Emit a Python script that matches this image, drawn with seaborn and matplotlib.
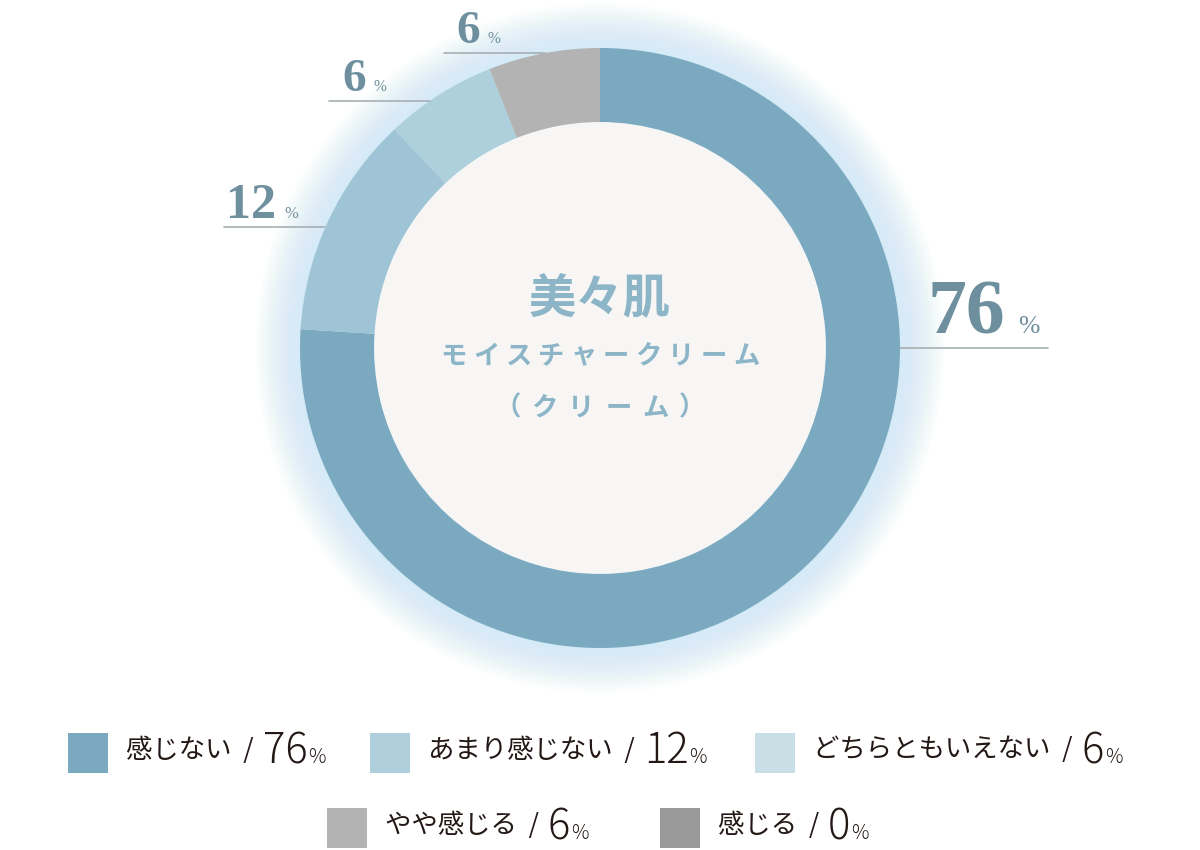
import matplotlib.pyplot as plt
import matplotlib.patches as mpatches
import seaborn as sns
import numpy as np

# data
categories = ['感じない', 'あまり感じない', 'どちらともいえない', 'やや感じる', '感じる']
values = [76, 12, 6, 6, 0]
ring_colors = ['#7BAAC0', '#9FC4D5', '#ADD0DC', '#B3B3B3', '#999999']
legend_colors = ['#7BAAC0', '#AFCFDC', '#C9DEE5', '#B3B3B3', '#999999']
title_lines = ['美々肌', 'モイスチャークリーム', '（クリーム）']

sns.set_theme(style='white')
plt.rcParams['font.family'] = ['Noto Sans CJK JP', 'DejaVu Sans']

H = 850
fig = plt.figure(figsize=(12, 8.5), dpi=100)
ax = fig.add_axes([0, 0, 1, 1])

cx, cy = 600, H - 348
R, W = 300, 74

# soft glow behind the ring
for r in np.linspace(R + 45, R, 30):
    ax.add_patch(mpatches.Circle((cx, cy), r, color='#C6EAF7', alpha=0.03, lw=0, zorder=0))

ax.add_patch(mpatches.Circle((cx, cy), R - W, color='#F7F6F5', lw=0, zorder=1))

wedges, _ = ax.pie(values, colors=ring_colors, startangle=90, counterclock=False,
                   radius=R, center=(cx, cy), frame=True,
                   wedgeprops=dict(width=W, linewidth=0))
for w in wedges:
    w.set_zorder(2)
ax.set_xlim(0, 1200)
ax.set_ylim(0, H)
ax.set_aspect('equal')
ax.axis('off')

# percentage labels with leader lines (pixel y from top)
num_color = '#6E8F9E'
labels = [
    # value, line y, line end x, text x, number size (pt), gap to line
    (values[0], 348, 1048, 928, 56, 15, 'right'),
    (values[1], 227, 224, 226, 36, 9, 'left'),
    (values[2], 101, 329, 342, 34, 10, 'left'),
    (values[3], 53, 444, 456, 34, 10, 'left'),
]
for val, ly, lx, tx, fs, gap, side in labels:
    dy = cy - (H - ly)
    edge = np.sqrt(R ** 2 - dy ** 2)
    if side == 'right':
        x0, x1 = cx + edge, lx
    else:
        x0, x1 = lx, cx - edge
    ax.plot([x0, x1], [H - ly, H - ly], color='#A6AFB3', lw=1.2, zorder=3)
    t = ax.text(tx, H - ly + gap, str(val), fontsize=fs, color=num_color,
                family='Liberation Serif', fontweight='bold',
                ha='left', va='baseline', zorder=4)
    fig.canvas.draw()
    bb = t.get_window_extent()
    ax.text(bb.x1 + fs * 0.22, H - ly + gap, '%', fontsize=fs * 0.33, color=num_color,
            family='Liberation Serif', ha='left', va='baseline', zorder=4)

# centre title
ctext = '#8DB5C8'
ax.text(cx, H - 298, title_lines[0], fontsize=34, fontweight='bold', color=ctext,
        ha='center', va='center')
for line, y, step in [(title_lines[1], 356, 32.5), (title_lines[2], 408, 37)]:
    n = len(line)
    for i, ch in enumerate(line):
        ax.text(cx + (i - (n - 1) / 2) * step, H - y, ch, fontsize=19, fontweight='bold',
                color=ctext, ha='center', va='center')

# legend: (square x, square centre y, digit baseline y)
leg_pos = [(68, 753, 763), (370, 753, 763), (755, 753, 763), (327, 828, 839), (660, 828, 839)]
for (lx, ly, base), cat, val, col in zip(leg_pos, categories, values, legend_colors):
    ax.add_patch(mpatches.Rectangle((lx, H - ly - 20), 40, 40, color=col, lw=0))
    t = ax.text(lx + 58, H - ly + 3, f'{cat}  /', fontsize=19, color='#231815',
                ha='left', va='center', fontweight='normal')
    fig.canvas.draw()
    bb = t.get_window_extent()
    t2 = ax.text(bb.x1 + 9, H - base, str(val), fontsize=30, color='#231815',
                 ha='left', va='baseline', fontweight='light')
    fig.canvas.draw()
    bb2 = t2.get_window_extent()
    ax.text(bb2.x1 + 1, H - base, '%', fontsize=14, color='#231815',
            ha='left', va='baseline', fontweight='light')

fig.savefig('out.png', dpi=100, facecolor='white')
